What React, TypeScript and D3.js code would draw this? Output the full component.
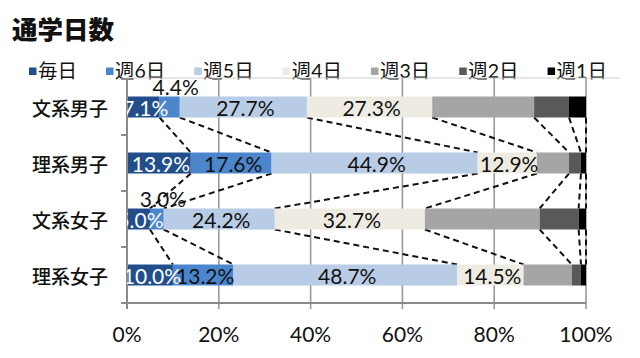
import { useRef, useEffect } from 'react';
import * as d3 from 'd3';

const W = 640, H = 358;
const PLOT = { left: 127, right: 586, top: 79, bottom: 303 };

const TITLE = '通学日数';
const CATEGORIES = ['文系男子', '理系男子', '文系女子', '理系女子'];
const SERIES_NAMES = ['毎日', '週6日', '週5日', '週4日', '週3日', '週2日', '週1日'];
// percent per category, one array per series
const MAINICHI = [7.1, 13.9, 5.0, 10.0];
const SHU6 = [4.4, 17.6, 3.0, 13.2];
const SHU5 = [27.7, 44.9, 24.2, 48.7];
const SHU4 = [27.3, 12.9, 32.7, 14.5];
const SHU3 = [22.2, 7.0, 25.0, 10.5];
const SHU2 = [7.6, 2.6, 8.5, 2.0];
const SHU1 = [3.7, 1.1, 1.6, 1.1];
const X_TICKS = [0, 20, 40, 60, 80, 100];

const COLORS = ['#224e8c', '#4b86cc', '#b8cce6', '#eeece2', '#a5a5a5', '#595959', '#000000'];
const LABEL_COLORS = ['#ffffff', '#111111', '#111111', '#111111'];
const LABELED = 4; // only the first four series carry data labels

const NUM_FONT = "Lato, 'Noto Sans CJK JP', sans-serif";
const JP_FONT = "'Noto Sans CJK JP', sans-serif";

export default function App() {
  const svgRef = useRef<SVGSVGElement>(null);

  useEffect(() => {
    document.body.style.margin = '0';
    const svg = d3.select(svgRef.current);
    svg.selectAll('*').remove();

    const values = [MAINICHI, SHU6, SHU5, SHU4, SHU3, SHU2, SHU1];
    const x = d3.scaleLinear().domain([0, 100]).range([PLOT.left, PLOT.right]);
    const y = d3.scaleBand<string>().domain(CATEGORIES).range([PLOT.top, PLOT.bottom])
      .paddingInner(0.625).paddingOuter(0.3125);
    const bw = y.bandwidth();

    // cumulative stack per category
    const stacks = CATEGORIES.map((_, c) => {
      let acc = 0;
      return values.map(v => { const s = acc; acc += v[c]; return [s, acc]; });
    });

    // title
    svg.append('text').attr('x', 12).attr('y', 39).attr('font-family', JP_FONT)
      .attr('font-weight', 900).attr('font-size', 25.5).attr('fill', '#111').text(TITLE);

    // legend, laid out by measured text width
    const leg = svg.append('g');
    let lx = 29;
    SERIES_NAMES.forEach((name, i) => {
      leg.append('rect').attr('x', lx).attr('y', 67.5).attr('width', 7.5).attr('height', 7.5).attr('fill', COLORS[i]);
      const t = leg.append('text').attr('x', lx + 9).attr('y', 70.5).attr('dominant-baseline', 'central')
        .attr('font-family', NUM_FONT).attr('font-size', 19.5).attr('fill', '#111').text(name);
      const tw = (t.node() as SVGTextElement).getComputedTextLength();
      lx += 9 + tw + 29;
    });

    // faint top line + gridlines
    svg.append('line').attr('x1', PLOT.left).attr('x2', 620).attr('y1', 78).attr('y2', 78)
      .attr('stroke', '#d0d0d0').attr('stroke-width', 1.2);
    svg.append('g').selectAll('line').data(X_TICKS.slice(1)).join('line')
      .attr('x1', d => x(d)).attr('x2', d => x(d)).attr('y1', 78).attr('y2', PLOT.bottom + 6)
      .attr('stroke', '#9a9a9a').attr('stroke-width', 1.6);

    // series lines between consecutive bars
    const series = svg.append('g').attr('stroke', '#111').attr('stroke-width', 2)
      .attr('stroke-dasharray', '6,4');
    for (let c = 0; c < CATEGORIES.length - 1; c++) {
      values.forEach((_, j) => {
        series.append('line')
          .attr('x1', x(stacks[c][j][1])).attr('y1', (y(CATEGORIES[c]) ?? 0) + bw)
          .attr('x2', x(stacks[c + 1][j][1])).attr('y2', y(CATEGORIES[c + 1]) ?? 0);
      });
    }

    // bars
    const bars = svg.append('g');
    CATEGORIES.forEach((cat, c) => {
      values.forEach((_, j) => {
        const [s, e] = stacks[c][j];
        bars.append('rect').attr('x', x(s)).attr('y', y(cat) ?? 0)
          .attr('width', Math.max(0, x(e) - x(s))).attr('height', bw).attr('fill', COLORS[j]);
      });
    });

    // axes
    const ax = svg.append('g').attr('stroke', '#8a8a8a').attr('stroke-width', 2);
    ax.append('line').attr('x1', PLOT.left).attr('x2', PLOT.left).attr('y1', PLOT.top).attr('y2', PLOT.bottom);
    ax.append('line').attr('x1', PLOT.left - 6).attr('x2', PLOT.right).attr('y1', PLOT.bottom).attr('y2', PLOT.bottom);
    const bounds = [PLOT.top, ...CATEGORIES.slice(1).map(cat => (y(cat) ?? 0) - (y.step() - bw) / 2), PLOT.bottom];
    bounds.forEach(b => ax.append('line').attr('x1', PLOT.left - 6).attr('x2', PLOT.left).attr('y1', b).attr('y2', b));
    ax.append('line').attr('x1', PLOT.left).attr('x2', PLOT.left).attr('y1', PLOT.bottom).attr('y2', PLOT.bottom + 6);

    svg.append('g').selectAll('text').data(X_TICKS).join('text')
      .attr('x', d => x(d)).attr('y', 342).attr('text-anchor', 'middle')
      .attr('font-family', NUM_FONT).attr('font-size', 21).attr('fill', '#111').text(d => `${d}%`);

    svg.append('g').selectAll('text').data(CATEGORIES).join('text')
      .attr('x', 108).attr('y', d => (y(d) ?? 0) + bw / 2).attr('text-anchor', 'end')
      .attr('dominant-baseline', 'central').attr('font-family', JP_FONT).attr('font-weight', 500)
      .attr('font-size', 19).attr('fill', '#111').text(d => d);

    // data labels, clipped at the value axis
    svg.append('clipPath').attr('id', 'lbl-clip').append('rect')
      .attr('x', PLOT.left).attr('y', 0).attr('width', W - PLOT.left).attr('height', H);
    const labels = svg.append('g').attr('clip-path', 'url(#lbl-clip)')
      .attr('font-family', NUM_FONT).attr('font-size', 21).attr('text-anchor', 'middle');
    CATEGORIES.forEach((cat, c) => {
      for (let j = 0; j < LABELED; j++) {
        const v = values[j][c];
        const [s, e] = stacks[c][j];
        const cx = (x(s) + x(e)) / 2;
        const top = y(cat) ?? 0;
        const small = v < 5;
        labels.append('text')
          .attr('x', small ? cx + 6 : cx + 2)
          .attr('y', small ? top - 2 : top + bw / 2)
          .attr('dominant-baseline', small ? 'auto' : 'central')
          .attr('fill', small ? '#111' : LABEL_COLORS[j])
          .text(`${v.toFixed(1)}%`);
      }
    });
  }, []);

  return (
    <svg ref={svgRef} width={W} height={H} viewBox={`0 0 ${W} ${H}`}
      style={{ display: 'block', background: '#fff' }} />
  );
}
